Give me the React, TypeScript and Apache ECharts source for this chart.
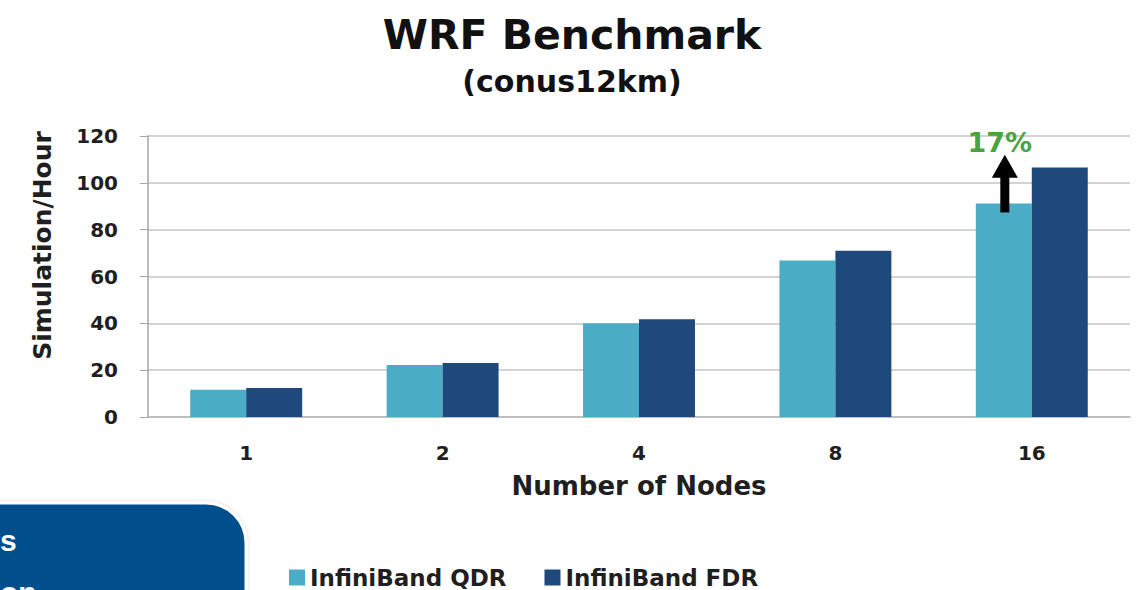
import React, { useEffect, useRef } from "react";
import * as echarts from "echarts";

const categories = ["1", "2", "4", "8", "16"];
const qdrValues = [11.6, 22.2, 40.0, 66.8, 91.2];
const fdrValues = [12.4, 23.1, 41.7, 71.0, 106.6];
const seriesNames = ["InfiniBand QDR", "InfiniBand FDR"];
const gainLabel = "17%";
const gainCategoryIndex = 4;
const arrowTopValue = 112;
const yTicks = { min: 0, max: 120, interval: 20 };

const FONT = "'DejaVu Sans', 'Open Sans', sans-serif";
const TEXT = "#1f1f1f";

export default function App() {
  const ref = useRef<HTMLDivElement>(null);
  useEffect(() => {
    if (!ref.current) return;
    const chart = echarts.init(ref.current, undefined, { renderer: "svg" });
    const option: any = {
      animation: false,
      backgroundColor: "#ffffff",
      textStyle: { fontFamily: FONT },
      title: [
        {
          text: "WRF Benchmark",
          left: "center",
          top: 9,
          textStyle: { fontFamily: FONT, fontWeight: "bold", fontSize: 41, color: "#111" },
        },
        {
          text: "(conus12km)",
          left: "center",
          top: 61,
          textStyle: { fontFamily: FONT, fontWeight: "bold", fontSize: 30, color: "#111" },
        },
      ],
      grid: { left: 148, right: 14, top: 136, bottom: 173, containLabel: false },
      legend: {
        data: seriesNames,
        left: 284,
        top: 561,
        icon: "rect",
        itemWidth: 16,
        itemHeight: 16,
        itemGap: 38,
        textStyle: { fontFamily: FONT, fontWeight: "bold", fontSize: 23, color: TEXT },
      },
      xAxis: {
        type: "category",
        data: categories,
        name: "Number of Nodes",
        nameLocation: "middle",
        nameGap: 56,
        nameTextStyle: { fontFamily: FONT, fontWeight: "bold", fontSize: 26, color: TEXT },
        axisLine: { lineStyle: { color: "#b8b8b8", width: 1.5 } },
        axisTick: { show: false },
        axisLabel: { margin: 26, fontFamily: FONT, fontWeight: "bold", fontSize: 20, color: TEXT },
      },
      yAxis: {
        type: "value",
        min: yTicks.min,
        max: yTicks.max,
        interval: yTicks.interval,
        name: "Simulation/Hour",
        nameLocation: "middle",
        nameGap: 93,
        nameRotate: 90,
        nameTextStyle: {
          fontFamily: FONT,
          fontWeight: "bold",
          fontSize: 25,
          color: TEXT,
          padding: [0, 0, 0, 62],
        },
        axisLine: { show: true, lineStyle: { color: "#a6a6a6", width: 1.5 } },
        axisTick: { show: true, inside: false, length: 8, lineStyle: { color: "#a6a6a6" } },
        axisLabel: { margin: 30, fontFamily: FONT, fontWeight: "bold", fontSize: 20, color: TEXT },
        splitLine: { lineStyle: { color: "#c4c4c4", width: 1.5 } },
      },
      series: [
        {
          name: seriesNames[0],
          type: "bar",
          data: qdrValues,
          barGap: "0%",
          barCategoryGap: "43%",
          itemStyle: { color: "#4bacc6" },
        },
        {
          name: seriesNames[1],
          type: "bar",
          data: fdrValues,
          itemStyle: { color: "#1f497d" },
        },
      ],
    };
    chart.setOption(option);

    // annotation arrow + label anchored on the data
    const catWidth = (1144 - 148 - 14) / categories.length;
    const barW = catWidth * 0.285;
    const base = chart.convertToPixel({ xAxisIndex: 0, yAxisIndex: 0 }, [
      gainCategoryIndex,
      qdrValues[gainCategoryIndex],
    ]) as number[];
    const top = chart.convertToPixel({ xAxisIndex: 0, yAxisIndex: 0 }, [
      gainCategoryIndex,
      arrowTopValue,
    ]) as number[];
    const ax = base[0] - barW / 2 + 1;
    const bottomY = base[1] + 9;
    const tipY = top[1];

    chart.setOption({
      graphic: [
        {
          type: "rect",
          shape: { x: -40, y: 503, width: 286, height: 140, r: 40 },
          style: { fill: "#03508c", stroke: "#ffffff", lineWidth: 3, shadowBlur: 4, shadowColor: "rgba(0,0,0,0.15)" },
          z: 10,
        },
        {
          type: "text",
          x: 0,
          y: 525,
          style: { text: "s", fill: "#ffffff", font: "bold 30px 'Liberation Sans', Arial, sans-serif" },
          z: 11,
        },
        {
          type: "text",
          x: 0,
          y: 577,
          style: { text: "on", fill: "#ffffff", font: "bold 30px 'Liberation Sans', Arial, sans-serif" },
          z: 11,
        },
        {
          type: "rect",
          shape: { x: ax - 4.5, y: tipY + 20, width: 9, height: bottomY - tipY - 20 },
          style: { fill: "#000000" },
          z: 12,
        },
        {
          type: "polygon",
          shape: { points: [[ax, tipY], [ax - 13, tipY + 23], [ax + 13, tipY + 23]] },
          style: { fill: "#000000" },
          z: 12,
        },
        {
          type: "text",
          x: ax - 5,
          y: tipY - 12,
          style: {
            text: gainLabel,
            fill: "#4ca33c",
            font: `bold 27px ${FONT}`,
            align: "center",
            verticalAlign: "middle",
          },
          z: 12,
        },
      ],
    });
    return () => chart.dispose();
  }, []);
  return <div ref={ref} style={{ width: 1144, height: 590, position: "absolute", left: 0, top: 0 }} />;
}
